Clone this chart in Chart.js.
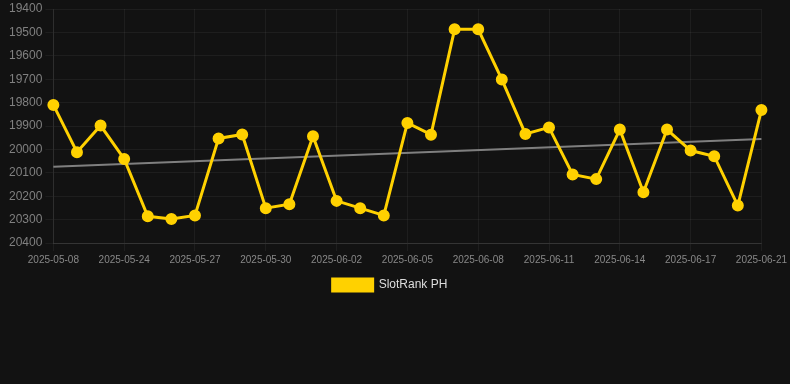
<!DOCTYPE html>
<html>
<head>
<meta charset="utf-8">
<script src="https://cdn.jsdelivr.net/npm/chart.js@4.4.1/dist/chart.umd.min.js"></script>
<style>
  html, body { margin: 0; padding: 0; background: #121212; }
  #wrap { width: 790px; height: 301px; position: relative; }
</style>
</head>
<body>
<div id="wrap"><canvas id="rankChart"></canvas></div>
<script>
// Dates on the x axis
const dates = [
    "2025-05-08", "2025-05-22", "2025-05-23", "2025-05-24", "2025-05-25", "2025-05-26",
    "2025-05-27", "2025-05-28", "2025-05-29", "2025-05-30", "2025-05-31", "2025-06-01",
    "2025-06-02", "2025-06-03", "2025-06-04", "2025-06-05", "2025-06-06", "2025-06-07",
    "2025-06-08", "2025-06-09", "2025-06-10", "2025-06-11", "2025-06-12", "2025-06-13",
    "2025-06-14", "2025-06-15", "2025-06-16", "2025-06-17", "2025-06-18", "2025-06-19",
    "2025-06-21",
];

// Rank values
const rankValues = [
    19810, 20012, 19898, 20041, 20286, 20297, 20282, 19953, 19936, 20251,
    20234, 19944, 20220, 20251, 20282, 19887, 19937, 19487, 19487, 19701,
    19934, 19906, 20107, 20127, 19915, 20183, 19915, 20005, 20029, 20240,
    19832,
];

// Trend line end points
const trendStart = 20074;
const trendEnd = 19956;

const trendValues = dates.map((d, i) =>
    i === 0 ? trendStart : i === dates.length - 1 ? trendEnd : null
);

const ctx = document.getElementById("rankChart").getContext("2d");

new Chart(ctx, {
    type: "line",
    data: {
        labels: dates,
        datasets: [
            {
                label: "SlotRank PH",
                data: rankValues,
                borderColor: "#FFD100",
                backgroundColor: "#FFD100",
                borderWidth: 3,
                pointRadius: 4.5,
                pointHoverRadius: 6,
                pointBackgroundColor: "#FFD100",
                pointBorderColor: "#FFD100",
                tension: 0,
            },
            {
                label: "Trend",
                data: trendValues,
                borderColor: "rgba(140,140,140,0.9)",
                borderWidth: 2,
                pointRadius: 0,
                spanGaps: true,
                fill: false,
            },
        ],
    },
    options: {
        responsive: true,
        maintainAspectRatio: false,
        animation: false,
        layout: { padding: { left: 6, right: 16, top: 0 } },
        plugins: {
            legend: {
                position: "bottom",
                labels: {
                    color: "#dddddd",
                    font: { family: "Arial, 'Liberation Sans', sans-serif", size: 12 },
                    boxWidth: 40,
                    boxHeight: 12,
                    filter: (item) => item.text !== "Trend",
                },
            },
            tooltip: { enabled: false },
        },
        scales: {
            x: {
                grid: { color: "rgba(255,255,255,0.05)" },
                border: { color: "rgba(255,255,255,0.1)" },
                ticks: {
                    color: "#888888",
                    maxRotation: 0,
                    font: { family: "Arial, 'Liberation Sans', sans-serif", size: 10 },
                },
            },
            y: {
                reverse: true,
                min: 19400,
                max: 20400,
                grid: { color: "rgba(255,255,255,0.05)" },
                border: { color: "rgba(255,255,255,0.08)" },
                ticks: {
                    stepSize: 100,
                    color: "#808080",
                    font: { family: "Arial, 'Liberation Sans', sans-serif", size: 12, lineHeight: 0.9 },
                    callback: (value) => String(value), // no thousands separator
                },
            },
        },
    },
});
</script>
</body>
</html>
